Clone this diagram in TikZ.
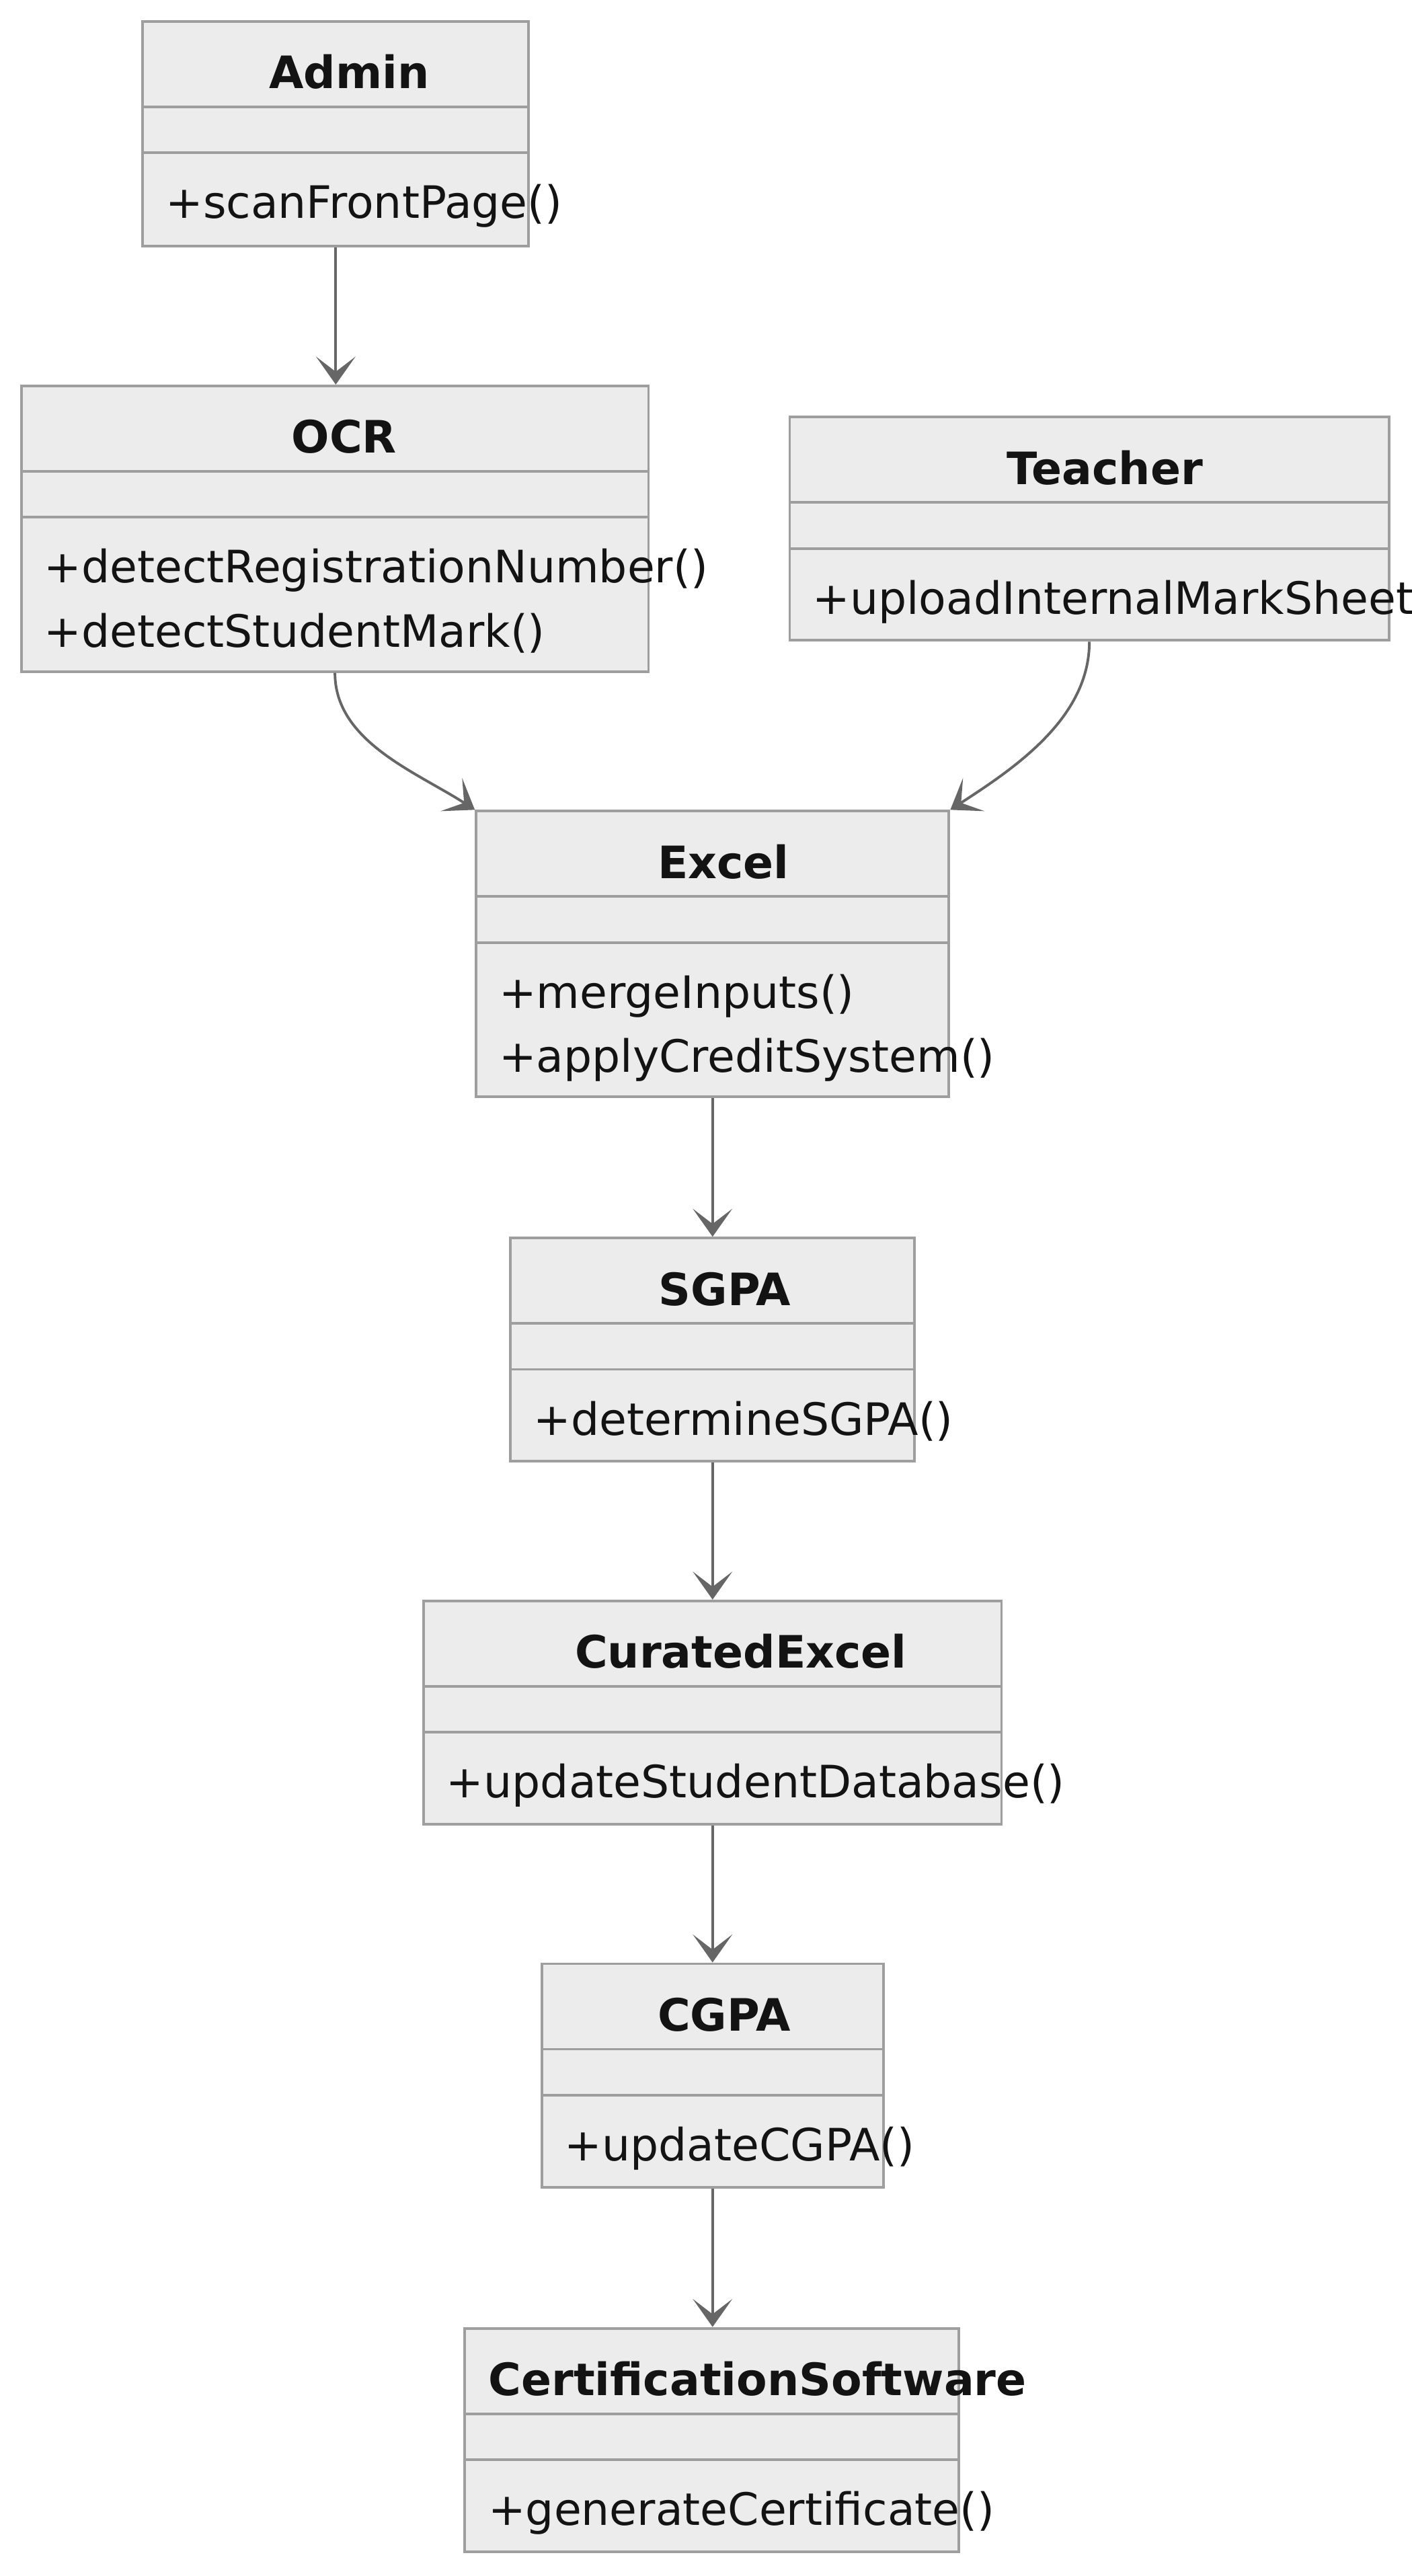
\documentclass[tikz,border=0pt]{standalone}
\usepackage{fontspec}
\setmainfont{DejaVu Sans}
\usetikzlibrary{fit,arrows.meta}
\definecolor{boxfill}{HTML}{ECECEC}
\definecolor{boxline}{HTML}{9E9E9E}
\definecolor{edgeline}{HTML}{666666}
\definecolor{inktext}{HTML}{131313}
\begin{document}
\begin{tikzpicture}[x=0.5pt, y=-0.5pt, font=\fontsize{13.6}{19.5}\selectfont,
    classbox/.style={draw=boxline, fill=boxfill, line width=0.8pt, inner sep=0pt},
    divider/.style={draw=boxline, line width=0.8pt},
    classname/.style={anchor=base, inner sep=0pt, text=inktext, font=\fontsize{13.6}{19.5}\selectfont\bfseries},
    method/.style={anchor=base west, inner sep=0pt, text=inktext},
    dep/.style={draw=edgeline, line width=0.8pt, -{Stealth[length=8.5pt, width=12pt, inset=4.6pt]}}]
  \path[use as bounding box, fill=white] (0,0) rectangle (860,1568.9);
  % Admin
  \node[classbox, fit={(87,13) (322,150)}] (admin) {};
  \draw[divider] (87,65) -- (322,65) (87,93) -- (322,93);
  \node[classname] (adminT) at (212.8,54) {Admin};
  \node[method] (adminM) at (100.5,133) {+scanFrontPage()};
  % OCR
  \node[classbox, fit={(13,235) (395,409)}] (ocr) {};
  \draw[divider] (13,287) -- (395,287) (13,315) -- (395,315);
  \node[classname] (ocrT) at (209.6,276) {OCR};
  \node[method] (ocrM1) at (26.5,355) {+detectRegistrationNumber()};
  \node[method] (ocrM2) at (26.5,394) {+detectStudentMark()};
  % Teacher
  \node[classbox, fit={(481,254) (846,390)}] (teacher) {};
  \draw[divider] (481,306) -- (846,306) (481,334) -- (846,334);
  \node[classname] (teacherT) at (673,295) {Teacher};
  \node[method] (teacherM) at (494.5,374) {+uploadInternalMarkSheet};
  % Excel
  \node[classbox, fit={(290,494) (578,668)}] (excel) {};
  \draw[divider] (290,546) -- (578,546) (290,574) -- (578,574);
  \node[classname] (excelT) at (440.6,535) {Excel};
  \node[method] (excelM1) at (303.5,614) {+mergeInputs()};
  \node[method] (excelM2) at (303.5,653) {+applyCreditSystem()};
  % SGPA
  \node[classbox, fit={(311,754) (557,890)}] (sgpa) {};
  \draw[divider] (311,806) -- (557,806) (311,834) -- (557,834);
  \node[classname] (sgpaT) at (441.5,795) {SGPA};
  \node[method] (sgpaM) at (324.5,874) {+determineSGPA()};
  % CuratedExcel
  \node[classbox, fit={(258,975) (610,1111)}] (curated) {};
  \draw[divider] (258,1027) -- (610,1027) (258,1055) -- (610,1055);
  \node[classname] (curatedT) at (451.2,1016) {CuratedExcel};
  \node[method] (curatedM) at (271.5,1095) {+updateStudentDatabase()};
  % CGPA
  \node[classbox, fit={(330,1196) (538,1332)}] (cgpa) {};
  \draw[divider] (330,1248) -- (538,1248) (330,1276) -- (538,1276);
  \node[classname] (cgpaT) at (441,1237) {CGPA};
  \node[method] (cgpaM) at (343.5,1316) {+updateCGPA()};
  % CertificationSoftware
  \node[classbox, fit={(283,1418) (584,1554)}] (cert) {};
  \draw[divider] (283,1470) -- (584,1470) (283,1498) -- (584,1498);
  \node[classname] (certT) at (461.4,1459) {CertificationSoftware};
  \node[method] (certM) at (297,1538) {+generateCertificate()};
  % dependencies
  \draw[dep] (admin.south) -- (admin.south |- ocr.north);
  \draw[dep] (ocr.south) to[out=-90, in=147, looseness=0.9] (excel.north west);
  \draw[dep] (teacher.south) to[out=-90, in=33, looseness=0.9] (excel.north east);
  \draw[dep] (excel.south) -- (sgpa.north);
  \draw[dep] (sgpa.south) -- (curated.north);
  \draw[dep] (curated.south) -- (cgpa.north);
  \draw[dep] (cgpa.south) -- (cgpa.south |- cert.north);
\end{tikzpicture}
\end{document}
